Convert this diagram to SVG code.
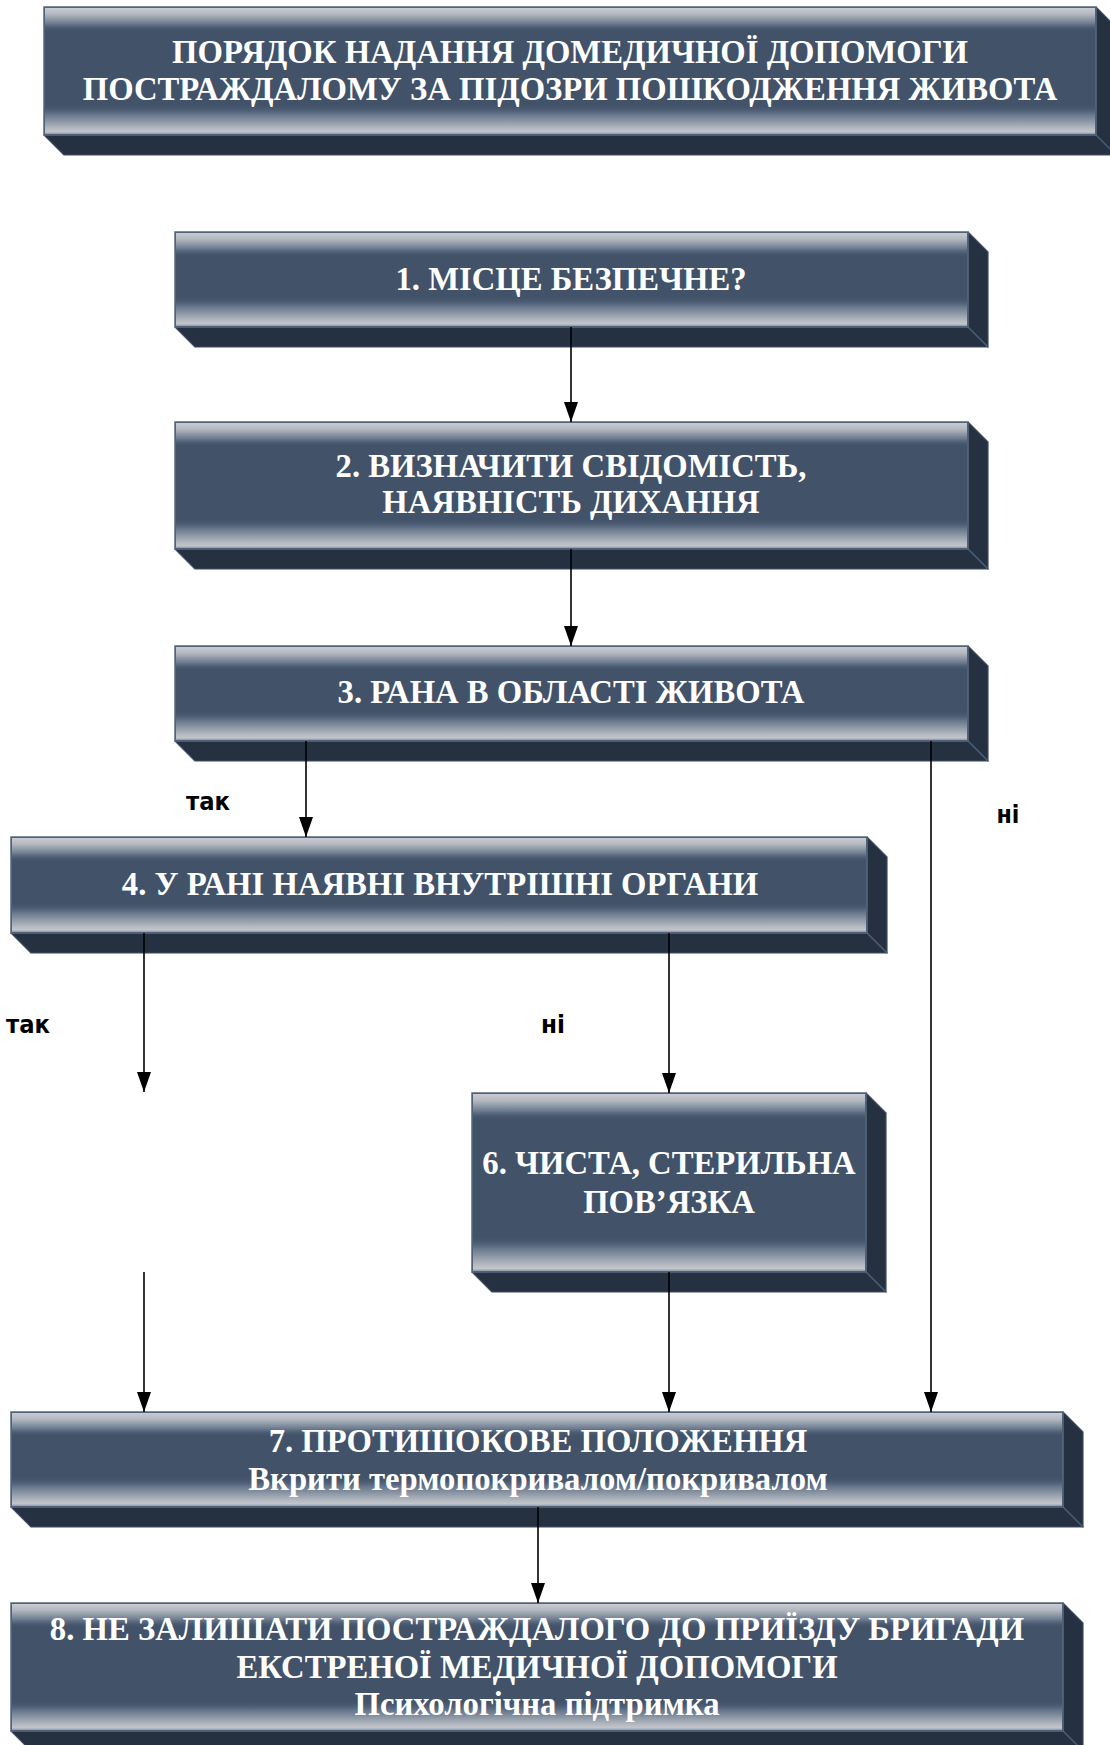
<svg xmlns="http://www.w3.org/2000/svg" width="1110" height="1745" viewBox="0 0 1110 1745">
  <style>
    .face { fill: #415269; stroke: #56677e; stroke-width: 1.5; }
    .side { fill: #253140; stroke: #3c4d63; stroke-width: 1.2; stroke-linejoin: round; }
    .seam { stroke: #4a5c74; stroke-width: 1.2; }
    .gtop { fill: url(#glossTop); }
    .gbot { fill: url(#glossBot); }
    .t { font-family: "Liberation Serif", "Times New Roman", serif; font-weight: bold; font-size: 32.7px; fill: #ffffff; text-anchor: middle; }
    .lbl { font-family: "DejaVu Sans", Verdana, sans-serif; font-weight: bold; font-size: 25px; fill: #000000; text-anchor: middle; }
    .edge { fill: none; stroke: #000000; stroke-width: 1.6; }
  </style>
  <defs>
    <linearGradient id="glossTop" x1="0" y1="0" x2="0" y2="1">
      <stop offset="0" stop-color="#c9ccd1"/>
      <stop offset="0.25" stop-color="#b4b9c1"/>
      <stop offset="0.65" stop-color="#6c7b8f"/>
      <stop offset="1" stop-color="#415269" stop-opacity="0"/>
    </linearGradient>
    <linearGradient id="glossBot" x1="0" y1="0" x2="0" y2="1">
      <stop offset="0" stop-color="#415269" stop-opacity="0"/>
      <stop offset="0.35" stop-color="#66768b"/>
      <stop offset="0.8" stop-color="#b2b7bf"/>
      <stop offset="0.93" stop-color="#c3c6cb"/>
      <stop offset="1" stop-color="#8d97a5"/>
    </linearGradient>
    <marker id="arrow" viewBox="0 0 20 14" refX="20" refY="7" markerWidth="20" markerHeight="14" markerUnits="userSpaceOnUse" orient="auto">
      <path d="M0,0 L20,7 L0,14 z" fill="#000000"/>
    </marker>
  </defs>

  <!-- title block -->
  <g id="node-title">
    <polygon class="side" points="1096,7 1116,27 1116,155 1096,135"/>
    <polygon class="side" points="44,135 1096,135 1116,155 64,155"/>
    <line class="seam" x1="1096" y1="135" x2="1116" y2="155"/>
    <rect class="face" x="44" y="7" width="1052" height="128"/>
    <rect class="gtop" x="45" y="8" width="1050" height="24"/>
    <rect class="gbot" x="45" y="104" width="1050" height="30"/>
    <text class="t" x="570" y="63">ПОРЯДОК НАДАННЯ ДОМЕДИЧНОЇ ДОПОМОГИ</text>
    <text class="t" x="570" y="100">ПОСТРАЖДАЛОМУ ЗА ПІДОЗРИ ПОШКОДЖЕННЯ ЖИВОТА</text>
  </g>

  <!-- step 1 -->
  <g id="node-1">
    <polygon class="side" points="968,232 988,252 988,347 968,327"/>
    <polygon class="side" points="175,327 968,327 988,347 195,347"/>
    <line class="seam" x1="968" y1="327" x2="988" y2="347"/>
    <rect class="face" x="175" y="232" width="793" height="95"/>
    <rect class="gtop" x="176" y="233" width="791" height="24"/>
    <rect class="gbot" x="176" y="296" width="791" height="30"/>
    <text class="t" x="571" y="290">1. МІСЦЕ БЕЗПЕЧНЕ?</text>
  </g>

  <!-- step 2 -->
  <g id="node-2">
    <polygon class="side" points="968,422 988,442 988,569 968,549"/>
    <polygon class="side" points="175,549 968,549 988,569 195,569"/>
    <line class="seam" x1="968" y1="549" x2="988" y2="569"/>
    <rect class="face" x="175" y="422" width="793" height="127"/>
    <rect class="gtop" x="176" y="423" width="791" height="24"/>
    <rect class="gbot" x="176" y="518" width="791" height="30"/>
    <text class="t" x="571" y="477">2. ВИЗНАЧИТИ СВІДОМІСТЬ,</text>
    <text class="t" x="571" y="513">НАЯВНІСТЬ ДИХАННЯ</text>
  </g>

  <!-- step 3 -->
  <g id="node-3">
    <polygon class="side" points="968,646 988,666 988,761 968,741"/>
    <polygon class="side" points="175,741 968,741 988,761 195,761"/>
    <line class="seam" x1="968" y1="741" x2="988" y2="761"/>
    <rect class="face" x="175" y="646" width="793" height="95"/>
    <rect class="gtop" x="176" y="647" width="791" height="24"/>
    <rect class="gbot" x="176" y="710" width="791" height="30"/>
    <text class="t" x="571" y="703">3. РАНА В ОБЛАСТІ ЖИВОТА</text>
  </g>

  <!-- step 4 -->
  <g id="node-4">
    <polygon class="side" points="867,837 887,857 887,953 867,933"/>
    <polygon class="side" points="11,933 867,933 887,953 31,953"/>
    <line class="seam" x1="867" y1="933" x2="887" y2="953"/>
    <rect class="face" x="11" y="837" width="856" height="96"/>
    <rect class="gtop" x="12" y="838" width="854" height="24"/>
    <rect class="gbot" x="12" y="902" width="854" height="30"/>
    <text class="t" x="440" y="895">4. У РАНІ НАЯВНІ ВНУТРІШНІ ОРГАНИ</text>
  </g>

  <!-- step 6 -->
  <g id="node-6">
    <polygon class="side" points="866,1093 886,1113 886,1292 866,1272"/>
    <polygon class="side" points="472,1272 866,1272 886,1292 492,1292"/>
    <line class="seam" x1="866" y1="1272" x2="886" y2="1292"/>
    <rect class="face" x="472" y="1093" width="394" height="179"/>
    <rect class="gtop" x="473" y="1094" width="392" height="26"/>
    <rect class="gbot" x="473" y="1236" width="392" height="35"/>
    <text class="t" x="669" y="1174">6. ЧИСТА, СТЕРИЛЬНА</text>
    <text class="t" x="669" y="1213">ПОВ’ЯЗКА</text>
  </g>

  <!-- step 7 -->
  <g id="node-7">
    <polygon class="side" points="1063,1412 1083,1432 1083,1527 1063,1507"/>
    <polygon class="side" points="11,1507 1063,1507 1083,1527 31,1527"/>
    <line class="seam" x1="1063" y1="1507" x2="1083" y2="1527"/>
    <rect class="face" x="11" y="1412" width="1052" height="95"/>
    <rect class="gtop" x="12" y="1413" width="1050" height="24"/>
    <rect class="gbot" x="12" y="1476" width="1050" height="30"/>
    <text class="t" x="538" y="1452">7. ПРОТИШОКОВЕ ПОЛОЖЕННЯ</text>
    <text class="t" x="538" y="1490">Вкрити термопокривалом/покривалом</text>
  </g>

  <!-- step 8 -->
  <g id="node-8">
    <polygon class="side" points="1063,1603 1083,1623 1083,1751 1063,1731"/>
    <polygon class="side" points="11,1731 1063,1731 1083,1751 31,1751"/>
    <line class="seam" x1="1063" y1="1731" x2="1083" y2="1751"/>
    <rect class="face" x="11" y="1603" width="1052" height="128"/>
    <rect class="gtop" x="12" y="1604" width="1050" height="24"/>
    <rect class="gbot" x="12" y="1700" width="1050" height="30"/>
    <text class="t" x="537" y="1640">8. НЕ ЗАЛИШАТИ ПОСТРАЖДАЛОГО ДО ПРИЇЗДУ БРИГАДИ</text>
    <text class="t" x="537" y="1678">ЕКСТРЕНОЇ МЕДИЧНОЇ ДОПОМОГИ</text>
    <text class="t" x="537" y="1715">Психологічна підтримка</text>
  </g>

  <!-- connectors -->
  <g id="connectors">
    <line class="edge" x1="571" y1="327" x2="571" y2="422" marker-end="url(#arrow)"/>
    <line class="edge" x1="571" y1="549" x2="571" y2="646" marker-end="url(#arrow)"/>
    <line class="edge" x1="306" y1="741" x2="306" y2="837" marker-end="url(#arrow)"/>
    <line class="edge" x1="931" y1="741" x2="931" y2="1412" marker-end="url(#arrow)"/>
    <line class="edge" x1="144" y1="933" x2="144" y2="1092" marker-end="url(#arrow)"/>
    <line class="edge" x1="144" y1="1272" x2="144" y2="1412" marker-end="url(#arrow)"/>
    <line class="edge" x1="669" y1="933" x2="669" y2="1093" marker-end="url(#arrow)"/>
    <line class="edge" x1="669" y1="1272" x2="669" y2="1412" marker-end="url(#arrow)"/>
    <line class="edge" x1="538" y1="1507" x2="538" y2="1603" marker-end="url(#arrow)"/>
    <text class="lbl" x="208" y="810" textLength="44" lengthAdjust="spacingAndGlyphs">так</text>
    <text class="lbl" x="1008" y="823" textLength="23" lengthAdjust="spacingAndGlyphs">ні</text>
    <text class="lbl" x="28" y="1033" textLength="44" lengthAdjust="spacingAndGlyphs">так</text>
    <text class="lbl" x="553" y="1033" textLength="24" lengthAdjust="spacingAndGlyphs">ні</text>
  </g>
</svg>
